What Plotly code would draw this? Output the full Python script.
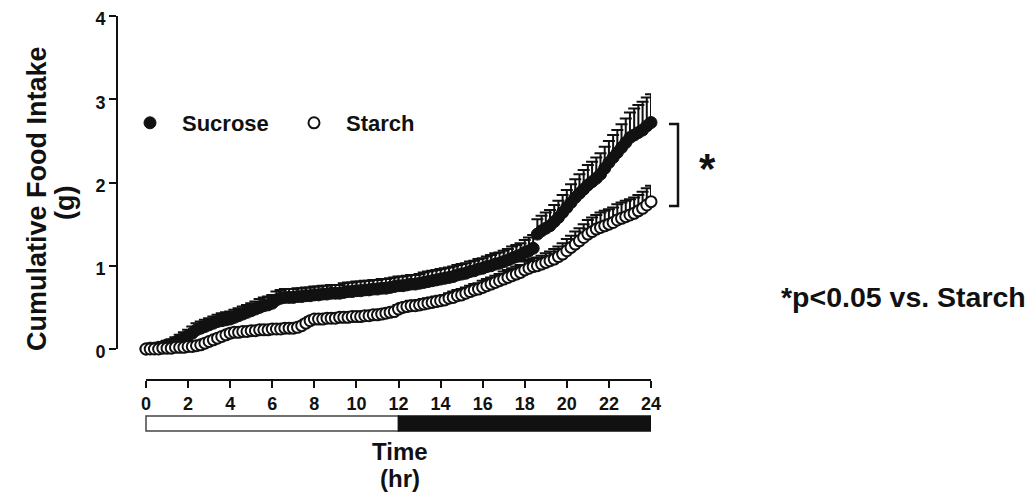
import plotly.graph_objects as go

# ---------------- data ----------------
time_hr = [round(i * 0.2, 1) for i in range(121)]

sucrose = [
    0.00, 0.01, 0.01, 0.02, 0.03,
    0.05, 0.06, 0.08, 0.11, 0.13,
    0.16, 0.19, 0.23, 0.25, 0.27,
    0.29, 0.31, 0.33, 0.34, 0.35,
    0.36, 0.38, 0.40, 0.42, 0.44,
    0.46, 0.48, 0.50, 0.52, 0.53,
    0.55, 0.59, 0.61, 0.62, 0.62,
    0.62, 0.63, 0.63, 0.64, 0.64,
    0.65, 0.65, 0.66, 0.66, 0.67,
    0.67, 0.67, 0.68, 0.69, 0.69,
    0.70, 0.70, 0.71, 0.71, 0.72,
    0.72, 0.73, 0.73, 0.74, 0.75,
    0.76, 0.76, 0.77, 0.78, 0.78,
    0.79, 0.80, 0.81, 0.82, 0.83,
    0.84, 0.85, 0.86, 0.87, 0.89,
    0.90, 0.91, 0.93, 0.94, 0.96,
    0.97, 0.99, 1.00, 1.02, 1.03,
    1.05, 1.07, 1.09, 1.11, 1.13,
    1.16, 1.18, 1.21, 1.38, 1.42,
    1.45, 1.48, 1.53, 1.58, 1.64,
    1.70, 1.76, 1.82, 1.87, 1.92,
    1.97, 2.01, 2.05, 2.10, 2.17,
    2.24, 2.30, 2.36, 2.42, 2.48,
    2.54, 2.57, 2.60, 2.63, 2.68,
    2.72,
]

sucrose_sem = [
    0.02, 0.03, 0.03, 0.04, 0.04,
    0.05, 0.05, 0.06, 0.06, 0.07,
    0.07, 0.08, 0.08, 0.08, 0.08,
    0.08, 0.08, 0.08, 0.09, 0.09,
    0.09, 0.09, 0.09, 0.09, 0.09,
    0.09, 0.09, 0.10, 0.10, 0.10,
    0.10, 0.10, 0.10, 0.10, 0.10,
    0.10, 0.10, 0.10, 0.10, 0.10,
    0.10, 0.10, 0.10, 0.10, 0.10,
    0.10, 0.10, 0.11, 0.11, 0.11,
    0.11, 0.11, 0.11, 0.11, 0.11,
    0.11, 0.11, 0.11, 0.11, 0.11,
    0.11, 0.11, 0.11, 0.11, 0.11,
    0.11, 0.12, 0.12, 0.12, 0.12,
    0.12, 0.12, 0.12, 0.12, 0.12,
    0.12, 0.12, 0.12, 0.12, 0.12,
    0.12, 0.12, 0.13, 0.13, 0.13,
    0.13, 0.13, 0.14, 0.14, 0.14,
    0.15, 0.16, 0.16, 0.18, 0.18,
    0.19, 0.19, 0.20, 0.20, 0.21,
    0.21, 0.22, 0.22, 0.23, 0.23,
    0.24, 0.24, 0.25, 0.25, 0.26,
    0.26, 0.27, 0.27, 0.28, 0.29,
    0.30, 0.32, 0.33, 0.34, 0.34,
    0.34,
]

starch = [
    0.00, 0.00, 0.00, 0.00, 0.01,
    0.01, 0.01, 0.02, 0.02, 0.02,
    0.03, 0.03, 0.04, 0.05, 0.07,
    0.09, 0.11, 0.13, 0.15, 0.17,
    0.19, 0.20, 0.20, 0.21, 0.21,
    0.22, 0.22, 0.23, 0.23, 0.23,
    0.24, 0.24, 0.24, 0.25, 0.25,
    0.25, 0.26, 0.28, 0.31, 0.34,
    0.36, 0.36, 0.36, 0.37, 0.37,
    0.37, 0.38, 0.38, 0.38, 0.39,
    0.39, 0.39, 0.40, 0.40, 0.41,
    0.41, 0.42, 0.43, 0.44, 0.45,
    0.48, 0.50, 0.51, 0.52, 0.52,
    0.53, 0.54, 0.55, 0.56, 0.57,
    0.58, 0.59, 0.61, 0.62, 0.64,
    0.65, 0.67, 0.69, 0.71, 0.72,
    0.74, 0.76, 0.78, 0.80, 0.82,
    0.84, 0.86, 0.88, 0.90, 0.92,
    0.95, 0.97, 0.99, 1.00, 1.02,
    1.04, 1.06, 1.08, 1.11, 1.14,
    1.18, 1.22, 1.26, 1.30, 1.34,
    1.38, 1.41, 1.44, 1.46, 1.48,
    1.50, 1.52, 1.55, 1.57, 1.59,
    1.61, 1.63, 1.66, 1.69, 1.73,
    1.77,
]

starch_sem = [
    0.02, 0.02, 0.02, 0.02, 0.02,
    0.02, 0.02, 0.02, 0.03, 0.03,
    0.03, 0.03, 0.03, 0.03, 0.03,
    0.03, 0.03, 0.03, 0.03, 0.03,
    0.03, 0.03, 0.03, 0.03, 0.03,
    0.03, 0.03, 0.03, 0.04, 0.04,
    0.04, 0.04, 0.04, 0.04, 0.04,
    0.04, 0.04, 0.04, 0.04, 0.04,
    0.04, 0.04, 0.04, 0.04, 0.04,
    0.04, 0.04, 0.05, 0.05, 0.05,
    0.05, 0.05, 0.05, 0.05, 0.05,
    0.05, 0.05, 0.05, 0.05, 0.05,
    0.05, 0.05, 0.05, 0.06, 0.06,
    0.06, 0.06, 0.06, 0.06, 0.06,
    0.06, 0.06, 0.06, 0.07, 0.07,
    0.07, 0.07, 0.07, 0.07, 0.07,
    0.08, 0.08, 0.08, 0.08, 0.08,
    0.09, 0.09, 0.09, 0.09, 0.09,
    0.10, 0.10, 0.10, 0.10, 0.10,
    0.11, 0.11, 0.12, 0.12, 0.13,
    0.14, 0.14, 0.15, 0.15, 0.16,
    0.17, 0.17, 0.17, 0.18, 0.18,
    0.18, 0.18, 0.19, 0.19, 0.19,
    0.19, 0.19, 0.19, 0.20, 0.20,
    0.19,
]

x_ticks = [0, 2, 4, 6, 8, 10, 12, 14, 16, 18, 20, 22, 24]
y_ticks = [0, 1, 2, 3, 4]

# ---------------- layout geometry ----------------
# the page body has an 8 px margin on every side: keep the figure inside the window
OFF = 8
W_FIG, H_FIG = 1035 - 2 * OFF, 501 - 2 * OFF
M_L, M_T = 117 - OFF, 16 - OFF - 2          # 2 px of headroom above the "4" tick
PLOT_R, PLOT_B = 651 - OFF, 380 - OFF
M_R, M_B = W_FIG - PLOT_R, H_FIG - PLOT_B
PW = W_FIG - M_L - M_R
PH = H_FIG - M_T - M_B

PX_PER_HR = (PW - 29) / 24                  # y axis sits 29 px left of t = 0
PX_PER_G = (PH - 31 - 2) / 4                # time axis sits 31 px below 0 g
X_LO = -29 / PX_PER_HR
Y_LO = -31 / PX_PER_G
Y_HI = 4 + 2 / PX_PER_G


def px_x(px):
    """reference-screen pixel -> paper x"""
    return (px - OFF - M_L) / PW


def px_y(py):
    """reference-screen pixel -> paper y"""
    return (H_FIG - M_B - (py - OFF)) / PH


FONT = "Liberation Sans, Arial, sans-serif"
INK = "#111111"

fig = go.Figure()

fig.add_trace(go.Scatter(
    x=time_hr, y=sucrose, name="Sucrose", mode="markers",
    marker=dict(symbol="circle", size=12, color=INK, line=dict(color=INK, width=1)),
    error_y=dict(type="data", symmetric=False, array=sucrose_sem,
                 arrayminus=[0] * len(sucrose_sem),
                 color=INK, thickness=2, width=6),
    cliponaxis=False,
))

fig.add_trace(go.Scatter(
    x=time_hr, y=starch, name="Starch", mode="markers",
    marker=dict(symbol="circle", size=11, color="white", line=dict(color=INK, width=2)),
    error_y=dict(type="data", symmetric=False, array=starch_sem,
                 arrayminus=[0] * len(starch_sem),
                 color=INK, thickness=2, width=6),
    cliponaxis=False,
))

axis_font = dict(family=FONT, size=18, color=INK, weight="bold")

fig.update_layout(
    width=W_FIG, height=H_FIG,
    margin=dict(l=M_L, r=M_R, t=M_T, b=M_B, autoexpand=False),
    paper_bgcolor="white", plot_bgcolor="white",
    showlegend=True,
    legend=dict(
        orientation="h", x=px_x(118), y=px_y(123), xanchor="left", yanchor="middle",
        font=dict(family=FONT, size=22, color=INK, weight="bold"),
        bgcolor="rgba(0,0,0,0)", itemwidth=54,
        entrywidth=95, entrywidthmode="pixels",
        itemclick=False,
    ),
    xaxis=dict(
        range=[X_LO, 24],
        tickvals=x_ticks, ticktext=[str(v) for v in x_ticks],
        showline=False,
        ticks="outside", ticklen=7, tickwidth=2, tickcolor=INK,
        tickfont=axis_font, showgrid=False, zeroline=False, automargin=False,
        ticklabeloverflow="allow",
    ),
    yaxis=dict(
        range=[Y_LO, Y_HI],
        tickvals=y_ticks, ticktext=[str(v) for v in y_ticks],
        showline=False,
        ticks="outside", ticklen=7, tickwidth=2, tickcolor=INK,
        tickfont=axis_font, showgrid=False, zeroline=False, automargin=False,
        ticklabeloverflow="allow", ticklabelshift=3,
    ),
)

# axis lines spanning only the tick range (GraphPad style offset axes)
fig.add_shape(type="line", xref="x", yref="paper",
              x0=x_ticks[0], x1=x_ticks[-1], y0=0, y1=0,
              line=dict(color=INK, width=2))
fig.add_shape(type="line", xref="paper", yref="y",
              x0=0, x1=0, y0=y_ticks[0], y1=y_ticks[-1],
              line=dict(color=INK, width=2))

# light / dark bar
fig.add_shape(type="rect", xref="x", yref="paper", x0=0, x1=12,
              y0=px_y(431), y1=px_y(416), fillcolor="white",
              line=dict(color="#444444", width=1.5))
fig.add_shape(type="rect", xref="x", yref="paper", x0=12, x1=24,
              y0=px_y(431), y1=px_y(416), fillcolor=INK,
              line=dict(color=INK, width=1.5))

# significance bracket
bx0, bx1, by0, by1 = px_x(669), px_x(678), px_y(124), px_y(206)
fig.add_shape(type="path", xref="paper", yref="paper",
              path=f"M {bx0} {by0} L {bx1} {by0} L {bx1} {by1} L {bx0} {by1}",
              line=dict(color=INK, width=2.5))

title_font = dict(family=FONT, size=24, color=INK, weight="bold")
ytitle_font = dict(family=FONT, size=27, color=INK, weight="bold")

annotations = [
    dict(text="*", x=px_x(707), y=px_y(168), xref="paper", yref="paper",
         xanchor="center", yanchor="middle",
         font=dict(family=FONT, size=42, color=INK, weight="bold"), showarrow=False),
    dict(text="*p<0.05 vs. Starch", x=px_x(903), y=px_y(297), xref="paper", yref="paper",
         xanchor="center", yanchor="middle",
         font=dict(family=FONT, size=28.5, color=INK, weight="bold"), showarrow=False),
    dict(text="Time", x=px_x(400), y=px_y(451), xref="paper", yref="paper",
         xanchor="center", yanchor="middle", font=title_font, showarrow=False),
    dict(text="(hr)", x=px_x(400), y=px_y(478), xref="paper", yref="paper",
         xanchor="center", yanchor="middle", font=title_font, showarrow=False),
    dict(text="Cumulative Food Intake", x=px_x(37), y=px_y(199), xref="paper", yref="paper",
         xanchor="center", yanchor="middle", textangle=-90, font=ytitle_font, showarrow=False),
    dict(text="(g)", x=px_x(65), y=px_y(203), xref="paper", yref="paper",
         xanchor="center", yanchor="middle", textangle=-90, font=ytitle_font, showarrow=False),
]
fig.update_layout(annotations=annotations)

fig.write_html("out.html")
